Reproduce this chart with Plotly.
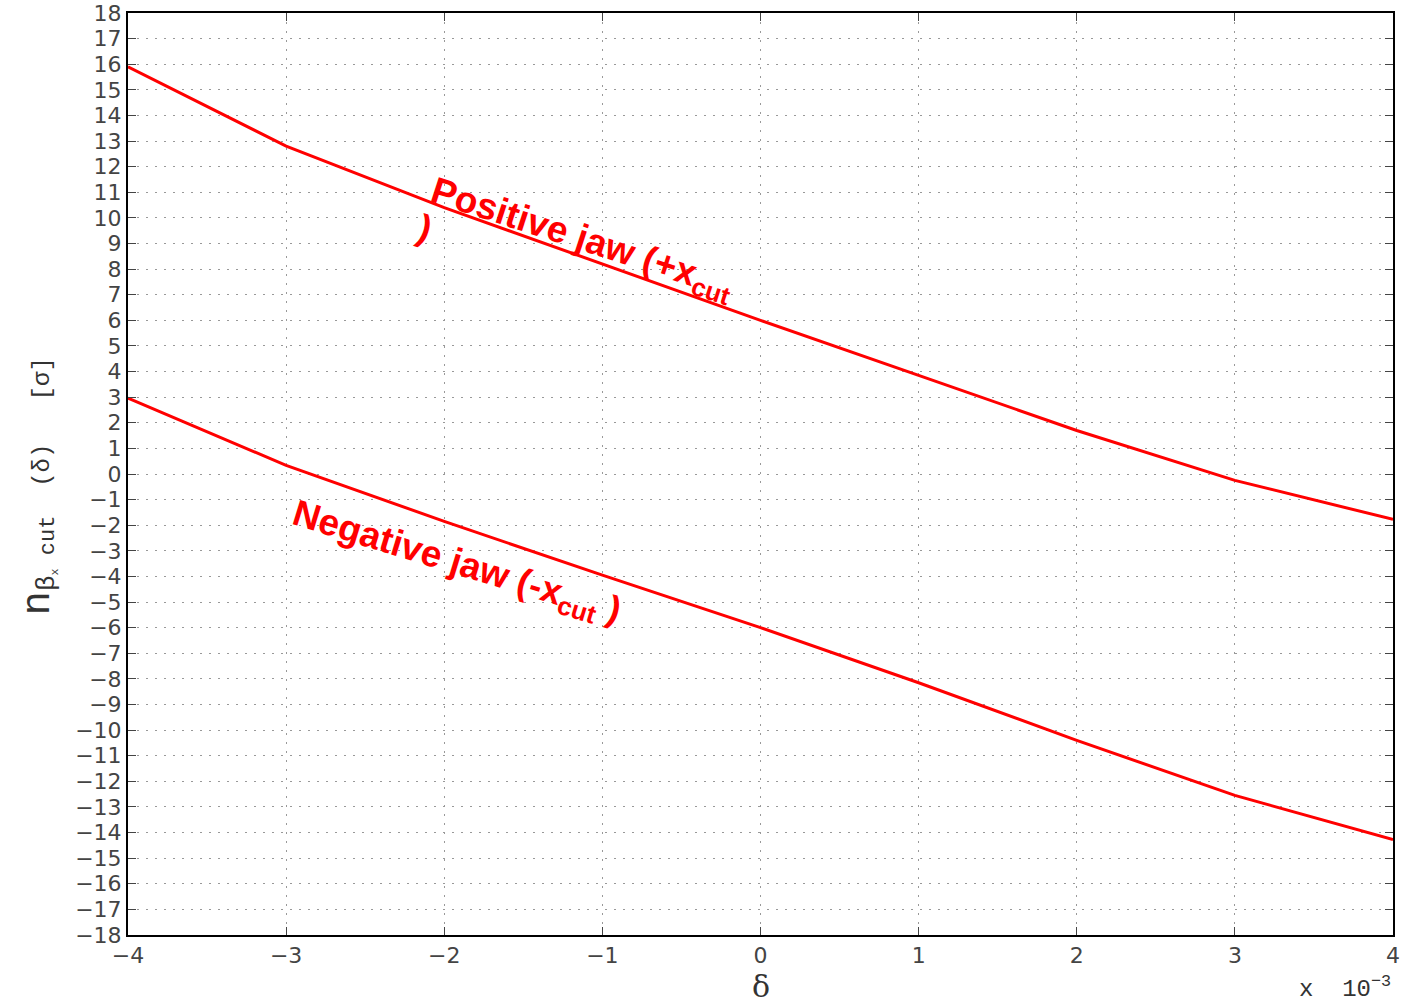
import plotly.graph_objects as go

delta = [-4, -3, -2, -1, 0, 1, 2, 3, 4]  # x 10^-3
positive_jaw = [15.9, 12.8, 10.4, 8.2, 6.0, 3.85, 1.7, -0.25, -1.77]
negative_jaw = [2.96, 0.34, -1.85, -3.95, -6.0, -8.15, -10.4, -12.55, -14.27]
y_ticks = list(range(-18, 19))
x_ticks = [-4, -3, -2, -1, 0, 1, 2, 3, 4]

def lab(v):
    return ("\u2212" + str(abs(v))) if v < 0 else str(v)

fig = go.Figure()
fig.add_trace(go.Scatter(x=delta, y=positive_jaw, mode="lines",
                         line=dict(color="#ff0000", width=3), showlegend=False))
fig.add_trace(go.Scatter(x=delta, y=negative_jaw, mode="lines",
                         line=dict(color="#ff0000", width=3), showlegend=False))

tickfont = dict(family="DejaVu Sans", size=22, color="#444444")
axis_common = dict(showline=True, linecolor="black", linewidth=2, mirror="ticks",
                   ticks="inside", ticklen=8, tickcolor="#444444", tickwidth=1,
                   showgrid=True, gridcolor="#999999", griddash="2px,7px", gridwidth=1,
                   zeroline=False, tickfont=tickfont, automargin=False)

fig.update_xaxes(range=[-4, 4], tickvals=x_ticks, ticktext=[lab(v) for v in x_ticks],
                 **axis_common)
fig.update_yaxes(range=[-18, 18], tickvals=y_ticks, ticktext=[lab(v) for v in y_ticks],
                 **axis_common)

red_font = dict(family="Liberation Sans", size=37, color="#ff0000")
fig.add_annotation(x=-1.13, y=9.12, text="<b>Positive jaw (+x<sub>cut</sub></b>",
                   textangle=18, showarrow=False, font=red_font)
fig.add_annotation(x=-2.12, y=9.6, text="<b>)</b>", textangle=18, showarrow=False, font=red_font)
fig.add_annotation(x=-1.92, y=-3.5, text="<b>Negative jaw (-x<sub>cut</sub> )</b>",
                   textangle=17, showarrow=False, font=red_font)

gray = "#333333"
# axis titles
ytitle = ('<span style="font-size:40px">n</span>'
          '<sub><span style="font-size:26px">β</span><sub>x</sub>'
          '<span style="font-size:22px"> cut</span></sub>  (δ)   [σ]')
fig.add_annotation(x=-0.09, xref="paper", y=0.487, yref="paper",
                   text=ytitle, textangle=-90, showarrow=False,
                   font=dict(family="Liberation Mono", size=24, color=gray))
fig.add_annotation(x=0.5, xref="paper", y=-0.0765, yref="paper", yanchor="bottom",
                   text="δ", showarrow=False,
                   font=dict(family="DejaVu Serif", size=30, color=gray))
fig.add_annotation(x=1, xref="paper", xanchor="right", y=-0.076, yref="paper", yanchor="bottom",
                   text="x  10<sup>\u22123</sup>", showarrow=False,
                   font=dict(family="Liberation Mono", size=24, color=gray))

fig.update_layout(width=1402, height=1008, plot_bgcolor="white", paper_bgcolor="white",
                  margin=dict(l=128, r=9, t=13, b=73))
fig.write_html("out.html")
